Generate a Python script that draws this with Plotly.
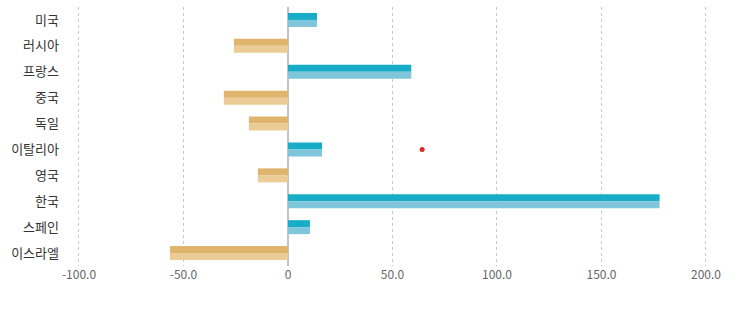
import plotly.graph_objects as go

countries = ["미국", "러시아", "프랑스", "중국", "독일", "이탈리아", "영국", "한국", "스페인", "이스라엘"]
values = [13.9, -25.9, 59.0, -30.7, -18.7, 16.3, -14.4, 177.8, 10.5, -56.5]
dot_x = [64.2]
dot_y = ["이탈리아"]
tick_vals = [-100, -50, 0, 50, 100, 150, 200]
tick_text = ["-100.0", "-50.0", "0", "50.0", "100.0", "150.0", "200.0"]

POS_DARK, POS_LIGHT = "#17adc9", "#7fc6da"
NEG_DARK, NEG_LIGHT = "#dfb46c", "#ebcb96"

dark = [POS_DARK if v >= 0 else NEG_DARK for v in values]
light = [POS_LIGHT if v >= 0 else NEG_LIGHT for v in values]

fig = go.Figure()
fig.add_trace(go.Bar(x=values, y=countries, orientation="h", marker=dict(color=dark, line=dict(width=0)),
                     width=0.27, offset=-0.27, showlegend=False, hoverinfo="x+y"))
fig.add_trace(go.Bar(x=values, y=countries, orientation="h", marker=dict(color=light, line=dict(width=0)),
                     width=0.27, offset=0.0, showlegend=False, hoverinfo="x+y"))
fig.add_trace(go.Scatter(x=dot_x, y=dot_y, mode="markers", marker=dict(color="#d42a2a", size=5),
                         showlegend=False, hoverinfo="skip"))

fig.update_layout(
    width=739, height=314,
    margin=dict(l=70, r=9, t=7, b=48),
    paper_bgcolor="white", plot_bgcolor="white",
    barmode="overlay",
    font=dict(family="Noto Sans CJK KR, Noto Sans, sans-serif"),
)
fig.update_xaxes(range=[-104.3, 211.5], tickvals=tick_vals, ticktext=tick_text,
                 showgrid=True, gridcolor="#c8c8c8", griddash="dot", gridwidth=1,
                 zeroline=True, zerolinecolor="#c4c4c4", zerolinewidth=2,
                 tickfont=dict(size=12, color="#666666"), ticks="", showline=False)
fig.update_yaxes(categoryorder="array", categoryarray=countries, autorange="reversed",
                 tickfont=dict(size=13, color="#333333"), showgrid=False, zeroline=False,
                 ticks="", ticklabelstandoff=10)

fig.write_html("out.html")
